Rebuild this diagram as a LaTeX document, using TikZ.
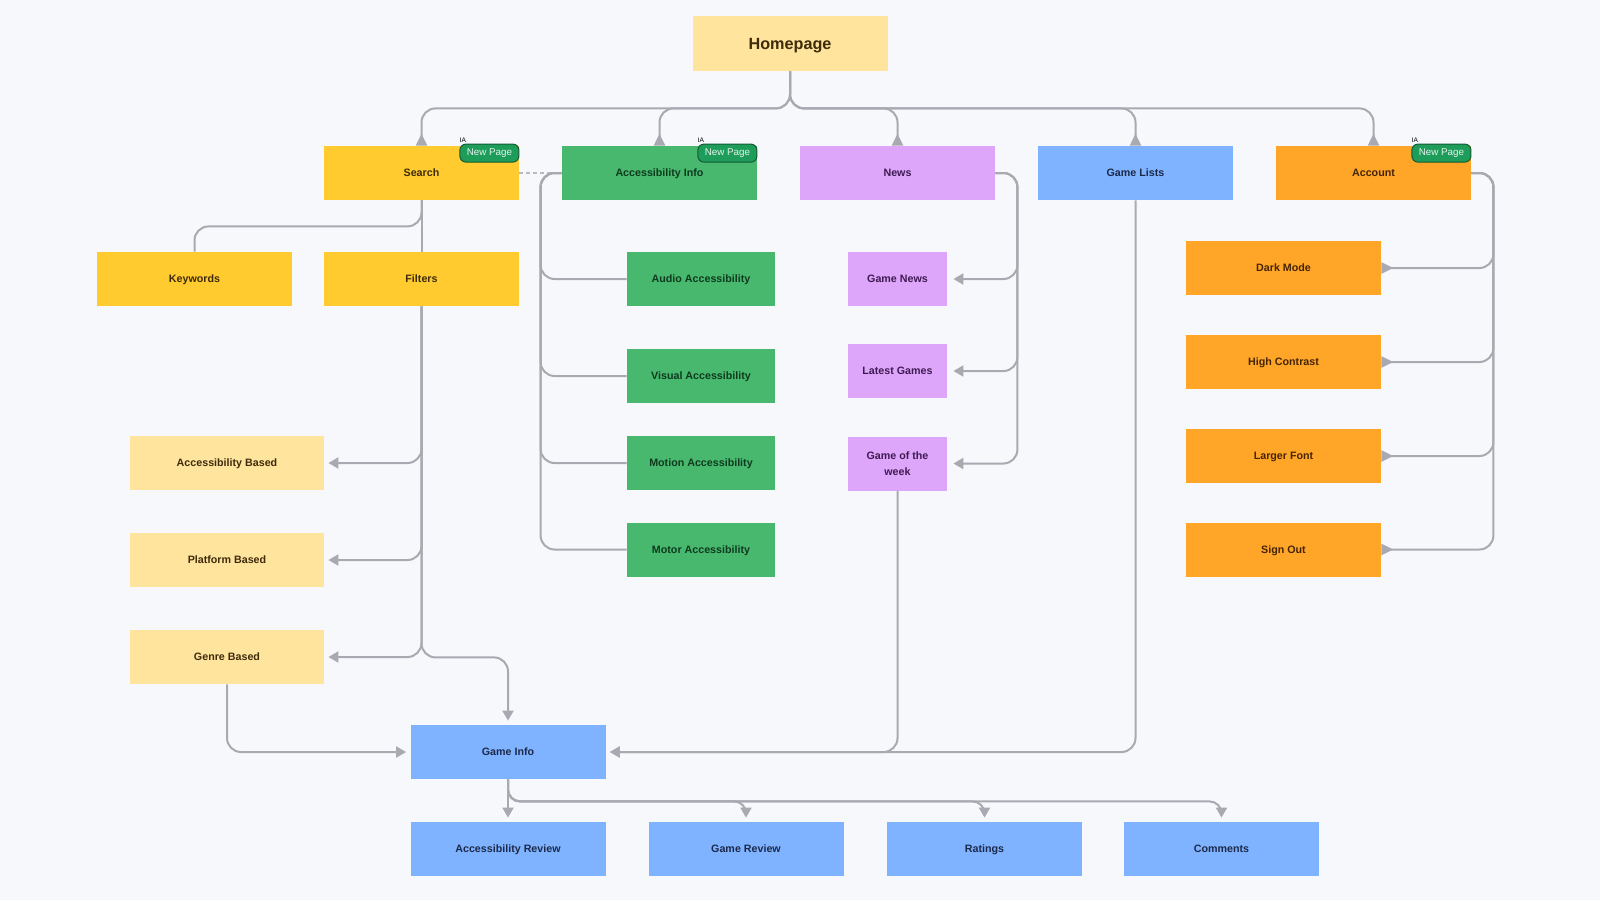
\documentclass[tikz,border=0pt]{standalone}
\usepackage{fontspec}
\setmainfont{Liberation Sans}
\usetikzlibrary{arrows.meta,calc}
\definecolor{bg}{HTML}{F6F8FC}
\definecolor{homeY}{HTML}{FFE49E}
\definecolor{srchY}{HTML}{FFCB2E}
\definecolor{accG}{HTML}{47B86E}
\definecolor{newsP}{HTML}{DEA6FB}
\definecolor{gameB}{HTML}{80B3FF}
\definecolor{acctO}{HTML}{FFA629}
\definecolor{badgeG}{HTML}{1E9C5A}
\definecolor{badgeD}{HTML}{145A33}
\definecolor{lineC}{HTML}{A9AAB1}
\definecolor{txtY}{HTML}{3D2B0A}
\definecolor{txtO}{HTML}{452505}
\definecolor{txtG}{HTML}{0E3A1E}
\definecolor{txtP}{HTML}{3E1A52}
\definecolor{txtB}{HTML}{1B2A4A}
\tikzset{
  box/.style={rectangle, inner sep=0pt, minimum width=97.5pt, minimum height=27pt,
    font=\bfseries\fontsize{5.35}{8}\selectfont, align=center, text height=4.9pt, text depth=1.1pt},
  homebox/.style={box, fill=homeY, text=txtY, minimum height=27.5pt,
    font=\bfseries\fontsize{8.1}{9}\selectfont, text height=7.9pt, text depth=1.7pt},
  ybox/.style={box, fill=srchY, text=txtY},
  lybox/.style={box, fill=homeY, text=txtY, minimum width=97pt},
  gbox/.style={box, fill=accG, text=txtG},
  gsub/.style={gbox, minimum width=74pt},
  pbox/.style={box, fill=newsP, text=txtP},
  psub/.style={pbox, minimum width=49.5pt},
  bbox/.style={box, fill=gameB, text=txtB},
  obox/.style={box, fill=acctO, text=txtO},
  conn/.style={draw=lineC, line width=1pt, rounded corners=7pt},
  tipin/.style={-{Triangle[length=5pt,width=5.5pt]}, shorten >=2pt},
  tiprev/.style={-{Triangle[reversed,length=6pt,width=5.5pt]}},
  badge/.style={rectangle, rounded corners=3pt, fill=badgeG, draw=badgeD, line width=0.5pt,
    text=white!88!badgeG, minimum width=29.5pt, minimum height=9pt, inner sep=0pt,
    font=\fontsize{4.9}{5}\selectfont, anchor=north east, text height=3.5pt, text depth=1pt},
  ialabel/.style={inner sep=0pt, anchor=south west, font=\fontsize{3.3}{3.5}\selectfont, text=black}
}
\begin{document}
\begin{tikzpicture}[x=0.5pt,y=-0.5pt]
\fill[bg] (0,0) rectangle (1600,900);
\useasboundingbox (0,0) rectangle (1600,900);

% nodes
\node[homebox] (home) at (790,43.5) {Homepage};
\node[ybox] (search) at (421.5,173) {Search};
\node[gbox] (accinfo) at (659.5,173) {Accessibility Info};
\node[pbox] (news) at (897.5,173) {News};
\node[bbox] (gamelists) at (1135.5,173) {Game Lists};
\node[obox] (account) at (1373.5,173) {Account};

\node[ybox] (keywords) at (194.5,279) {Keywords};
\node[ybox] (filters) at (421.5,279) {Filters};

\node[lybox] (accbased) at (227,463) {Accessibility Based};
\node[lybox] (platform) at (227,560) {Platform Based};
\node[lybox] (genre) at (227,657) {Genre Based};

\node[gsub] (audio) at (701,279) {Audio Accessibility};
\node[gsub] (visual) at (701,376) {Visual Accessibility};
\node[gsub] (motion) at (701,463) {Motion Accessibility};
\node[gsub] (motor) at (701,549.5) {Motor Accessibility};

\node[psub] (gamenews) at (897.5,279) {Game News};
\node[psub] (latest) at (897.5,371) {Latest Games};
\node[psub, text height=, text depth=] (gotw) at (897.5,463.5) {Game of the\\week};

\node[obox] (dark) at (1283.5,268) {Dark Mode};
\node[obox] (contrast) at (1283.5,362) {High Contrast};
\node[obox] (larger) at (1283.5,456) {Larger Font};
\node[obox] (signout) at (1283.5,549.5) {Sign Out};

\node[bbox] (gameinfo) at (508,752) {Game Info};
\node[bbox] (accreview) at (508,849) {Accessibility Review};
\node[bbox] (gamereview) at (746,849) {Game Review};
\node[bbox] (ratings) at (984.5,849) {Ratings};
\node[bbox] (comments) at (1221.5,849) {Comments};

% badges
\foreach \n in {search,accinfo,account}{
  \node[badge] (b\n) at ([yshift=1pt]\n.north east) {New Page};
  \node[ialabel] (ia\n) at ([yshift=0.3pt]b\n.north west) {IA};
}

% homepage to first row
\foreach \n in {search,accinfo,news,gamelists,account}{
  \draw[conn,tiprev] (home.south) -- ++(0,37) -| (\n.north);
}

% dashed link
\draw[draw=lineC!80, line width=0.8pt, dash pattern=on 2pt off 1.5pt] (search.east) -- (accinfo.west);

% search
\draw[conn] (search.south) -- (filters.north);
\draw[conn] (search.south) -- ++(0,26) -| (keywords.north);

% filters
\foreach \n in {accbased,platform,genre}{
  \draw[conn,tipin] (filters.south) |- (\n.east);
}
\draw[conn,tipin] (filters.south) -- ++(0,351) -| (gameinfo.north);
\draw[conn,tipin] (genre.south) |- (gameinfo.west);

% accessibility info
\foreach \n in {audio,visual,motion,motor}{
  \draw[conn] (accinfo.west) -- ++(-21,0) |- (\n.west);
}

% news
\foreach \n in {gamenews,latest,gotw}{
  \draw[conn,tipin,shorten >=3pt] (news.east) -- ++(22,0) |- (\n.east);
}

% account
\foreach \n in {dark,contrast,larger,signout}{
  \draw[conn,tiprev] (account.east) -- ++(22,0) |- (\n.east);
}

% to game info
\draw[conn,tipin] (gotw.south) |- (gameinfo.east);
\draw[conn,tipin] (gamelists.south) |- (gameinfo.east);

% game info children
\draw[conn,tipin] (gameinfo.south) -- (accreview.north);
\foreach \n in {gamereview,ratings,comments}{
  \draw[conn,tipin,rounded corners=6pt] (gameinfo.south) -- ++(0,22) -| (\n.north);
}
\end{tikzpicture}
\end{document}
